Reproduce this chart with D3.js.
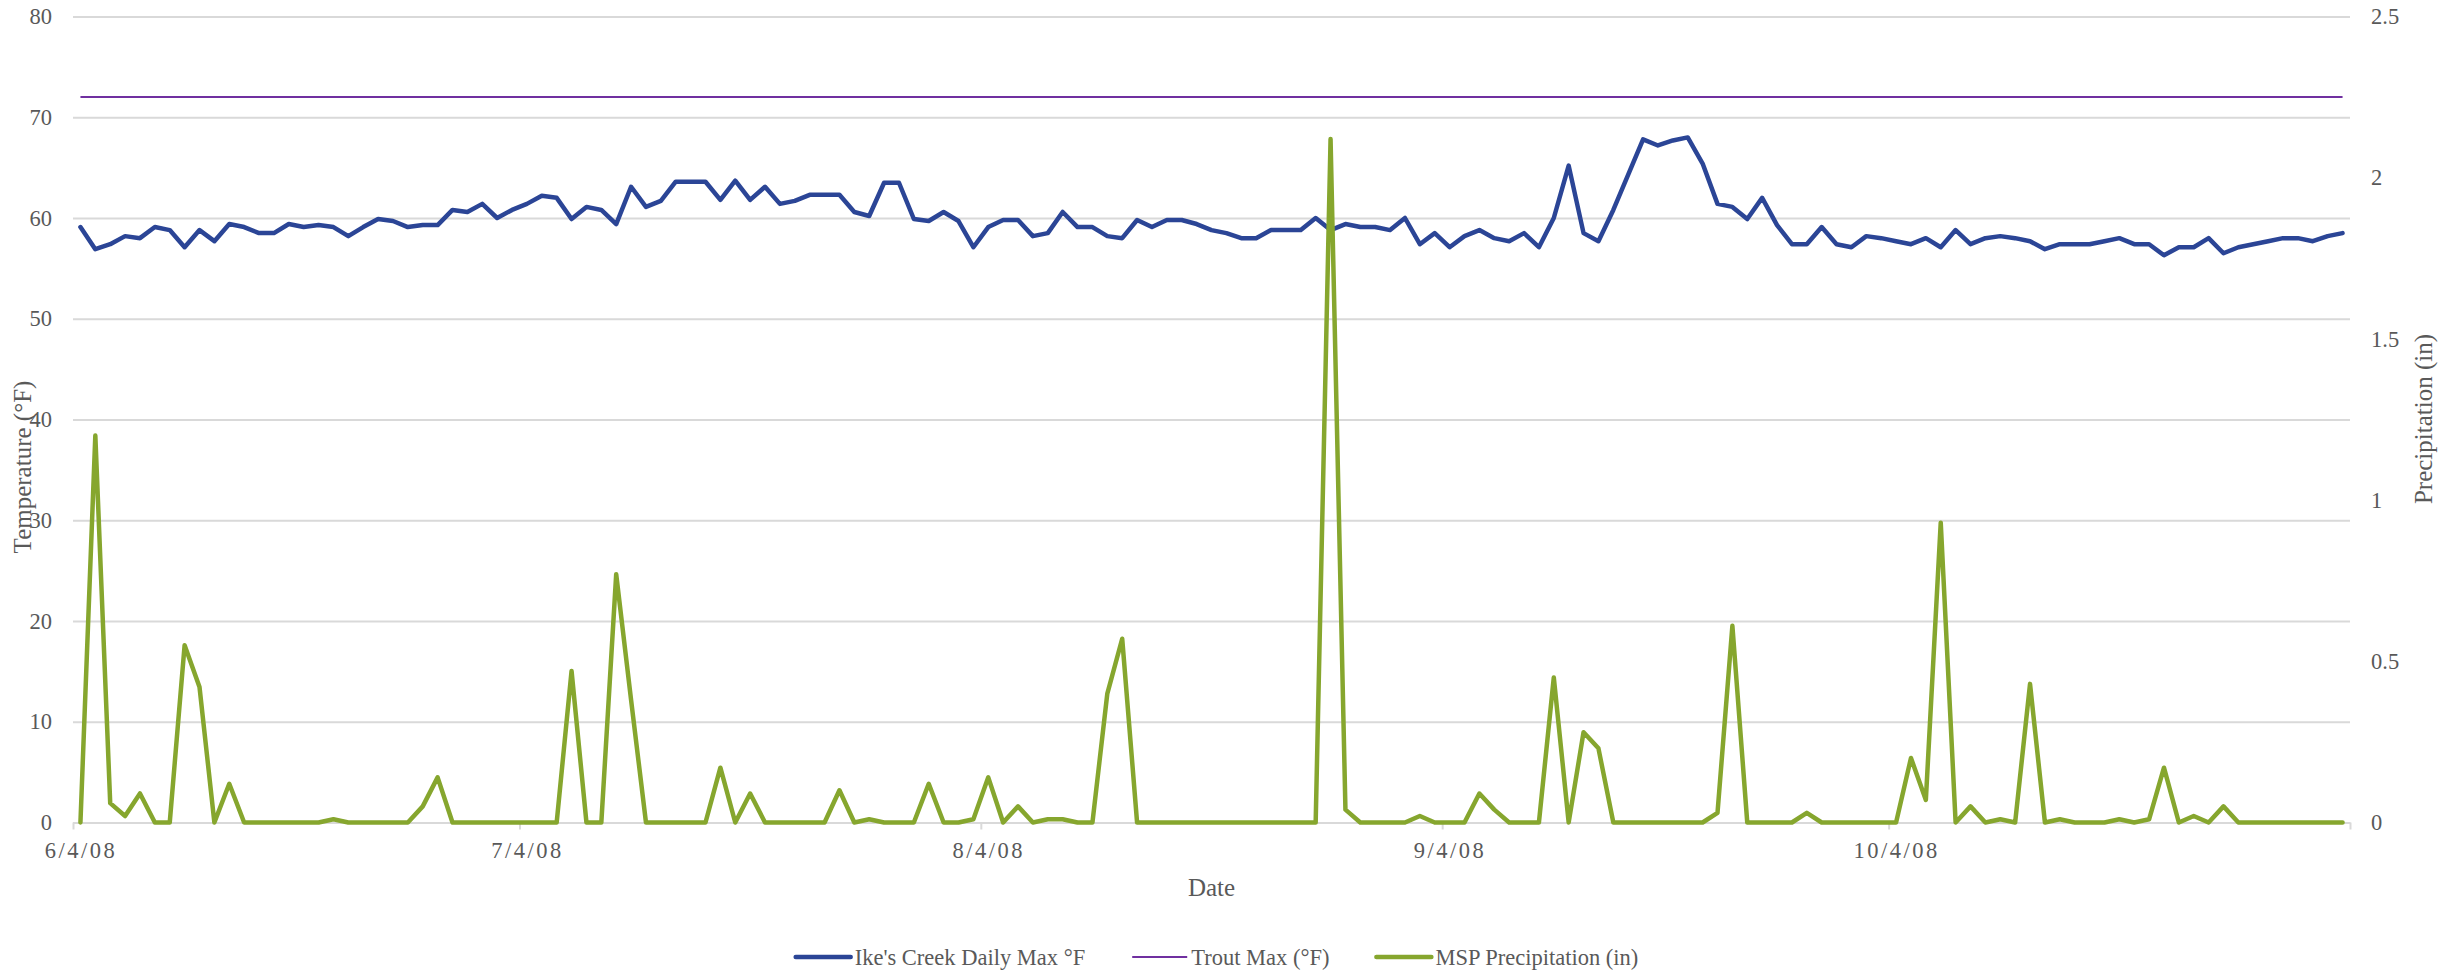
<!DOCTYPE html>
<html lang="en">
<head>
<meta charset="utf-8">
<title>Ike's Creek temperature and MSP precipitation</title>
<script src="https://cdn.jsdelivr.net/npm/d3@7"></script>
<style>
  body { margin: 0; background: #fff; }
  svg { display: block; font-family: "Liberation Serif", "DejaVu Serif", serif; }
  .tick text { fill: #595959; }
</style>
</head>
<body>
<svg width="2460" height="976"></svg>
<script>
// daily categories, 6/4/08 .. 11/3/08
const dates = d3.timeDay.range(new Date(2008, 5, 4), new Date(2008, 10, 4));

// Ike's Creek daily max temperature (°F)
const creekMax = [
  59.1, 56.9, 57.4, 58.2, 58.0, 59.1, 58.8, 57.1, 58.8, 57.7,
  59.4, 59.1, 58.5, 58.5, 59.4, 59.1, 59.3, 59.1, 58.2, 59.1,
  59.9, 59.7, 59.1, 59.3, 59.3, 60.8, 60.6, 61.4, 60.0, 60.8,
  61.4, 62.2, 62.0, 59.9, 61.1, 60.8, 59.4, 63.1, 61.1, 61.7,
  63.6, 63.6, 63.6, 61.8, 63.7, 61.8, 63.1, 61.4, 61.7, 62.3,
  62.3, 62.3, 60.6, 60.2, 63.5, 63.5, 59.9, 59.7, 60.6, 59.7,
  57.1, 59.1, 59.8, 59.8, 58.2, 58.5, 60.6, 59.1, 59.1, 58.2,
  58.0, 59.8, 59.1, 59.8, 59.8, 59.4, 58.8, 58.5, 58.0, 58.0,
  58.8, 58.8, 58.8, 60.0, 58.8, 59.4, 59.1, 59.1, 58.8, 60.0,
  57.4, 58.5, 57.1, 58.2, 58.8, 58.0, 57.7, 58.5, 57.1, 60.0,
  65.2, 58.5, 57.7, 60.8, 64.3, 67.8, 67.2, 67.7, 68.0, 65.4,
  61.4, 61.1, 59.9, 62.0, 59.3, 57.4, 57.4, 59.1, 57.4, 57.1,
  58.2, 58.0, 57.7, 57.4, 58.0, 57.1, 58.8, 57.4, 58.0, 58.2,
  58.0, 57.7, 56.9, 57.4, 57.4, 57.4, 57.7, 58.0, 57.4, 57.4,
  56.3, 57.1, 57.1, 58.0, 56.5, 57.1, 57.4, 57.7, 58.0, 58.0,
  57.7, 58.2, 58.5
];

// MSP precipitation (in)
const mspPrecip = [
  0, 1.20, 0.06, 0.02, 0.09, 0, 0, 0.55, 0.42, 0,
  0.12, 0, 0, 0, 0, 0, 0, 0.01, 0, 0,
  0, 0, 0, 0.05, 0.14, 0, 0, 0, 0, 0,
  0, 0, 0, 0.47, 0, 0, 0.77, 0.38, 0, 0,
  0, 0, 0, 0.17, 0, 0.09, 0, 0, 0, 0,
  0, 0.10, 0, 0.01, 0, 0, 0, 0.12, 0, 0,
  0.01, 0.14, 0, 0.05, 0, 0.01, 0.01, 0, 0, 0.40,
  0.57, 0, 0, 0, 0, 0, 0, 0, 0, 0,
  0, 0, 0, 0, 2.12, 0.04, 0, 0, 0, 0,
  0.02, 0, 0, 0, 0.09, 0.04, 0, 0, 0, 0.45,
  0, 0.28, 0.23, 0, 0, 0, 0, 0, 0, 0,
  0.03, 0.61, 0, 0, 0, 0, 0.03, 0, 0, 0,
  0, 0, 0, 0.20, 0.07, 0.93, 0, 0.05, 0, 0.01,
  0, 0.43, 0, 0.01, 0, 0, 0, 0.01, 0, 0.01,
  0.17, 0, 0.02, 0, 0.05, 0, 0, 0, 0, 0,
  0, 0, 0
];

const troutMax = 72;

const tempTicks = [0, 10, 20, 30, 40, 50, 60, 70, 80];
const precipTicks = [0, 0.5, 1, 1.5, 2, 2.5];
const monthTicks = [new Date(2008, 5, 4), new Date(2008, 6, 4), new Date(2008, 7, 4),
                    new Date(2008, 8, 4), new Date(2008, 9, 4), new Date(2008, 10, 4)];
const dateLabels = monthTicks.slice(0, 5);

const seriesNames = ["Ike's Creek Daily Max °F", "Trout Max (°F)", "MSP Precipitation (in)"];
const seriesColors = ["#2b4596", "#7030a0", "#86a62e"];
const seriesWidths = [4.5, 2, 4.5];

const svg = d3.select("svg");
const plotLeft = 73, plotRight = 2350, plotTop = 16.5, plotBottom = 822.5;
const grey = "#595959";

const x = d3.scaleTime()
  .domain([new Date(2008, 5, 4), new Date(2008, 10, 4)])
  .range([plotLeft, plotRight]);
const yT = d3.scaleLinear().domain([0, 80]).range([plotBottom, plotTop]);
const yP = d3.scaleLinear().domain([0, 2.5]).range([plotBottom, plotTop]);
const noon = d => d3.timeHour.offset(d, 12);

// gridlines
svg.append("g")
  .attr("transform", `translate(${plotLeft},0)`)
  .call(d3.axisLeft(yT).tickValues(tempTicks).tickSize(-(plotRight - plotLeft)).tickFormat(""))
  .call(g => g.select(".domain").remove())
  .call(g => g.selectAll("line").attr("stroke", "#d9d9d9").attr("stroke-width", 2));

// bottom tick marks
svg.append("g")
  .attr("transform", `translate(0,${plotBottom})`)
  .call(d3.axisBottom(x).tickValues(monthTicks).tickSize(7).tickSizeOuter(0).tickFormat(""))
  .call(g => g.select(".domain").attr("stroke", "#d9d9d9").attr("stroke-width", 2))
  .call(g => g.selectAll("line").attr("stroke", "#d9d9d9").attr("stroke-width", 2));

// bottom labels, centred on the day
svg.append("g")
  .attr("transform", `translate(0,${plotBottom})`)
  .call(d3.axisBottom(x).tickValues(dateLabels.map(noon)).tickSize(0).tickPadding(20)
    .tickFormat(d3.timeFormat("%-m/%-d/%y")))
  .call(g => g.select(".domain").remove())
  .call(g => g.selectAll("text").attr("font-size", 22.5).attr("letter-spacing", 2.5)
    .attr("font-family", "Liberation Serif"));

// left labels
svg.append("g")
  .attr("transform", `translate(${plotLeft},0)`)
  .call(d3.axisLeft(yT).tickValues(tempTicks).tickSize(0).tickPadding(21))
  .call(g => g.select(".domain").remove())
  .call(g => g.selectAll("text").attr("font-size", 22.5).attr("font-family", "Liberation Serif"));

// right labels
svg.append("g")
  .attr("transform", `translate(${plotRight},0)`)
  .call(d3.axisRight(yP).tickValues(precipTicks).tickSize(0).tickPadding(21).tickFormat(d3.format("~g")))
  .call(g => g.select(".domain").remove())
  .call(g => g.selectAll("text").attr("font-size", 22.5).attr("font-family", "Liberation Serif"));

// series
const creekLine = d3.line().x((d, i) => x(noon(dates[i]))).y(d => yT(d));
const precipLine = d3.line().x((d, i) => x(noon(dates[i]))).y(d => yP(d));

svg.append("path")
  .datum(creekMax)
  .attr("d", creekLine)
  .attr("fill", "none")
  .attr("stroke", seriesColors[0])
  .attr("stroke-width", seriesWidths[0])
  .attr("stroke-linejoin", "round")
  .attr("stroke-linecap", "round");

svg.append("line")
  .attr("x1", x(noon(dates[0])))
  .attr("x2", x(noon(dates[dates.length - 1])))
  .attr("y1", yT(troutMax))
  .attr("y2", yT(troutMax))
  .attr("stroke", seriesColors[1])
  .attr("stroke-width", seriesWidths[1]);

svg.append("path")
  .datum(mspPrecip)
  .attr("d", precipLine)
  .attr("fill", "none")
  .attr("stroke", seriesColors[2])
  .attr("stroke-width", seriesWidths[2])
  .attr("stroke-linejoin", "round")
  .attr("stroke-linecap", "round");

// axis titles
svg.append("text")
  .attr("transform", "translate(31,467) rotate(-90)")
  .attr("text-anchor", "middle")
  .attr("font-size", 25)
  .attr("fill", grey)
  .text("Temperature (°F)");

svg.append("text")
  .attr("transform", "translate(2432,419) rotate(-90)")
  .attr("text-anchor", "middle")
  .attr("font-size", 25)
  .attr("fill", grey)
  .text("Precipitation (in)");

svg.append("text")
  .attr("x", (plotLeft + plotRight) / 2)
  .attr("y", 896)
  .attr("text-anchor", "middle")
  .attr("font-size", 25)
  .attr("fill", grey)
  .text("Date");

// legend, laid out from measured text widths
const legend = svg.append("g");
const items = legend.selectAll("g")
  .data(seriesNames)
  .join("g");
items.append("line")
  .attr("x1", 0).attr("x2", 55)
  .attr("y1", 0).attr("y2", 0)
  .attr("stroke", (d, i) => seriesColors[i])
  .attr("stroke-width", (d, i) => seriesWidths[i])
  .attr("stroke-linecap", (d, i) => i === 1 ? "butt" : "round");
items.append("text")
  .attr("x", 59)
  .attr("dy", "0.35em")
  .attr("font-size", 22.5)
  .attr("fill", grey)
  .text(d => d);

let cursor = 0;
items.each(function () {
  const w = 59 + d3.select(this).select("text").node().getComputedTextLength();
  d3.select(this).attr("transform", `translate(${cursor},0)`);
  cursor += w + 47;
});
const legendWidth = cursor - 47;
legend.attr("transform", `translate(${1217 - legendWidth / 2},957)`);
</script>
</body>
</html>
